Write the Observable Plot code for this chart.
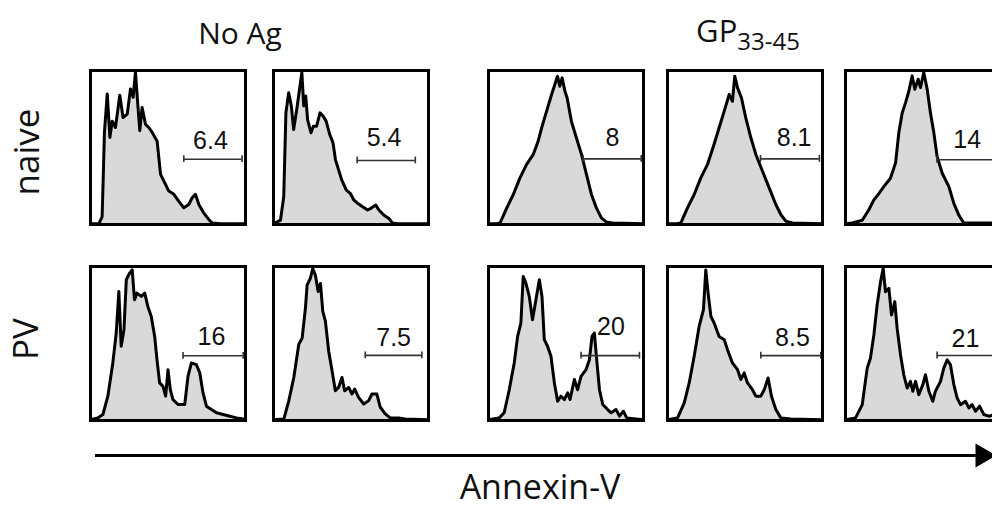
<!DOCTYPE html>
<html>
<head>
<meta charset="utf-8">
<script src="https://cdn.jsdelivr.net/npm/d3@7"></script>
<script src="https://cdn.jsdelivr.net/npm/@observablehq/plot@0.6"></script>
<style>
  html, body { margin: 0; padding: 0; background: #fff; overflow: hidden; }
  #root { position: relative; width: 992px; height: 511px; overflow: hidden; font-family: "Open Sans", sans-serif; }
  .abs { position: absolute; }
  .title { font-size: 30px; color: #111; white-space: nowrap; line-height: 1; }
  .title sub { font-size: 24px; vertical-align: -0.35em; line-height: 0; }
  .big { font-size: 35px; }
</style>
</head>
<body>
<div id="root"></div>
<script>
// ---- data: histogram outlines, [channel %, relative count %] ----
const naiveNoAg1 = [[0,0.5],[5.4,0.5],[7.5,5],[8.2,30],[9,60],[10.8,84.8],[12.5,56.5],[14,67],[16.1,63],[18.9,84],[21,69.5],[23.7,71.7],[25.8,88],[27.5,82.6],[29,98.9],[30.5,78],[31.8,60.9],[33.3,76],[35.5,65],[37.6,63],[39.8,59.8],[43,54],[45.2,32.6],[48.4,26],[50.5,21.7],[53.8,19.6],[57,15],[60.2,10.9],[63.4,13],[65.6,17.4],[67.7,19.6],[69.9,13],[73,7.6],[76.3,3.3],[78.5,1],[84,0.5],[100,0.5]];
const naiveNoAg2 = [[0,0.5],[4.5,2.8],[6.6,18],[8,72.5],[9.8,85.6],[11.5,77],[13,61.7],[15,74.7],[16.8,87.8],[18.3,98.7],[19.5,77],[20.8,83.4],[22,68],[24.2,59.5],[25.7,63.8],[27.8,63.8],[30,72.5],[32,70.4],[34,67],[36.3,58.4],[38.4,53],[40,42],[42,35.5],[44,29],[47,22.4],[49.7,20],[51.8,15.9],[54.4,13.7],[57.5,11.5],[60.7,9.4],[62.8,10.5],[66,12.6],[68,9.4],[71.3,6],[74.5,3.9],[76.6,1],[80,0.5],[100,0.5]];
const naiveGP1 = [[0,0.5],[5,0.5],[7.5,1],[11.8,10.8],[16,19.5],[20.3,30.3],[24.6,39],[28.9,45.5],[32,54],[34.3,62.8],[37.5,73.6],[40.7,84.4],[42.8,90.9],[44.5,96.3],[46,89.8],[47.5,95.2],[49.3,86.6],[50.7,82.3],[53.5,67],[56.7,56.3],[60,45.5],[63.2,32.5],[66.4,19.5],[69.6,10.8],[72.8,4.3],[76,1.7],[80,1],[100,0.5]];
const naiveGP2 = [[0,0.5],[6,0.5],[8.6,1],[12.9,10.8],[17.2,19.5],[21.5,30.3],[25.8,39],[30,52],[33.3,62.8],[36.6,73.6],[39.8,84.4],[41.9,80],[43.4,96.3],[45.2,88.7],[47.7,82.3],[50.5,69.3],[53.8,56.3],[57,45.5],[61.3,34.6],[65.6,23.8],[69.9,13],[73.1,6.5],[76.3,2.2],[80.6,1],[100,0.5]];
const naiveGP3 = [[0,0.5],[4.3,1],[10.8,2.8],[15,9.4],[18.3,16],[21.5,20],[24.7,24.6],[29,30],[32.3,40],[34.4,59.5],[36.6,72.5],[38.7,79],[40.9,86.7],[43,96.5],[44.7,87.8],[46.9,94.3],[48.4,88.9],[50.5,98.7],[52.7,87.8],[54.8,72.5],[57,59.5],[59.1,44.2],[62.4,33.3],[66.7,24.6],[69.9,13.7],[73.1,6.1],[76.3,1],[100,1]];
const pvNoAg1 = [[0,0.5],[4.7,1.7],[8,3.9],[11.2,15.8],[14.4,37.4],[16.6,56.8],[18.3,83.8],[19.8,48.2],[21.6,59],[23.1,91.4],[25.2,95.7],[26.9,97.8],[28.4,78.4],[29.9,82.7],[32.8,80.6],[35,82.7],[37,74],[39.2,67.6],[41.4,54.6],[42.9,39.5],[44.6,24.4],[46.8,22.2],[48.5,15.8],[50,33],[51.5,20],[53.2,13.6],[56.5,10.4],[60.8,10.4],[62.9,28.7],[65.1,37.4],[68.3,36.3],[70.5,30.9],[72.6,17.9],[74.8,9.3],[78,7.1],[81.3,5],[85.6,3.9],[89.9,2.8],[94.2,1.7],[98.5,1],[100,0.5]];
const pvNoAg2 = [[0,0.5],[6.7,1],[9.9,12.9],[13.1,27.9],[16.3,49.4],[18.5,53.6],[20.6,73],[21.7,88],[23.8,92.3],[25.3,98.7],[27,94.4],[28.8,83.7],[30.3,89],[31.8,70.8],[33.5,64.4],[35.6,45],[37.8,32.2],[39.9,19.3],[42,21.5],[44.2,27.9],[45.9,19.3],[48.5,21.5],[50.6,17.2],[52.4,20.4],[54.9,15],[58.2,10.7],[61.4,12.9],[63.5,17.2],[66.7,17.2],[68.9,8.6],[72.1,4.3],[75.3,1.7],[80.7,1.7],[85,1],[100,0.5]];
const pvGP1 = [[0,0.5],[6.9,1.7],[10.1,5],[13.4,20],[16.6,37.4],[18.8,54.6],[20.9,63.3],[22.4,93.5],[24.1,89.2],[26.3,80.6],[28.4,65.4],[30.6,78.4],[32.8,91.4],[34.5,80.6],[36,52.5],[38.1,48.2],[40.3,41.7],[42.5,24.4],[44.6,12.5],[46.8,15.8],[48.9,13.6],[51.1,17.9],[52.6,13.6],[55.4,26.6],[57.5,20],[59.7,28.7],[62.9,33],[65.1,39.5],[66.8,54.6],[68.3,56.8],[69.8,39.5],[71.6,20],[73.7,10.4],[76.9,7.1],[79.1,5],[82.3,7.1],[84.5,2.8],[87,6],[89.2,1.7],[95,1],[100,0.5]];
const pvGP2 = [[0,0.5],[6.5,1.7],[10.8,11.4],[14,24.4],[17.2,41.7],[20.4,61.1],[23.2,72],[24.7,97.8],[26.2,82.7],[28,67.6],[30.1,63.3],[33.3,54.6],[36.6,52.5],[38.7,46],[41.9,37.4],[45.2,33],[47.3,26.6],[49.5,30.9],[51.6,24.4],[54.8,20],[57,15.8],[60.2,15.8],[62.4,20],[64.9,27.6],[67.1,15.8],[69.9,7.1],[73.1,1.7],[79.6,1],[100,0.5]];
const pvGP3 = [[0,0.5],[6.5,1.7],[10.8,10.3],[14,34],[16.1,40.5],[18.3,55.6],[20.4,75],[22.6,90],[24.3,98.7],[25.8,83.6],[28,85.8],[29.7,68.5],[31.8,77.2],[33.3,60],[35.5,42.7],[37.6,29.7],[39.8,21.1],[41.9,25.4],[43.4,19],[45.2,25.4],[47.3,16.8],[49.9,23.3],[51.6,29.7],[53.8,19],[56.3,12.5],[58,19],[61.3,25.4],[63.4,34],[65.6,39.4],[67.7,36.2],[69.9,23.3],[72,14.7],[74.2,10.3],[77.4,12.5],[79.6,8.2],[81.7,10.3],[83.9,6],[86.5,9.3],[89.2,3.9],[92.5,2.8],[94.6,3.4],[96.8,1.7],[100,1]];

// gate (Annexin-V+ %) per panel, row-major
const gateLabels = ["6.4","5.4","8","8.1","14","16","7.5","20","8.5","21"];
const gateStart  = [60.2, 54, 61, 60, 59, 59.7, 59.2, 59.7, 60.2, 59.1];
const gateEnd    = [97.8, 91.5, 98.5, 98, 98, 98.5, 95.7, 97.4, 98.9, 98];
const gateLevel  = [42.4, 41.6, 42.6, 42.6, 42, 42, 42.3, 42.1, 42.1, 42.2];
const labelX     = [77.4, 71.3, 80, 81.7, 78.5, 78, 77.5, 79, 80.6, 77.4];
const labelY     = [48.9, 50.8, 51, 51, 49.7, 49, 48.3, 55.7, 48.2, 48];

const rowLabels = ["naive", "PV"];
const groupLabels = ["No Ag", "GP"];
const xAxisLabel = "Annexin-V";

const curves = [naiveNoAg1, naiveNoAg2, naiveGP1, naiveGP2, naiveGP3, pvNoAg1, pvNoAg2, pvGP1, pvGP2, pvGP3];

// ---- layout ----
const root = document.getElementById("root");
const colLeft = [90, 273, 488, 667, 845];
const rowTop = [70, 266];
const PW = 155, PH = 154, M = 3;

function panel(i) {
  const data = curves[i].map(([x, y]) => ({x, y}));
  const g = {x1: gateStart[i], x2: gateEnd[i], y: gateLevel[i], lx: labelX[i], ly: labelY[i], label: gateLabels[i]};
  const ends = [{x: g.x1, y1: g.y - 2.2, y2: g.y + 2.2}, {x: g.x2, y1: g.y - 2.2, y2: g.y + 2.2}];
  return Plot.plot({
    width: PW + 2 * M, height: PH + 2 * M, margin: M,
    x: {domain: [0, 100], axis: null},
    y: {domain: [0, 100], axis: null},
    marks: [
      Plot.areaY(data, {x: "x", y: "y", fill: "#d9d9d9"}),
      Plot.lineY(data, {x: "x", y: "y", stroke: "#000", strokeWidth: 3, strokeLinejoin: "round"}),
      Plot.ruleY([g], {y: "y", x1: "x1", x2: "x2", stroke: "#333", strokeWidth: 1.6}),
      Plot.ruleX(ends, {x: "x", y1: "y1", y2: "y2", stroke: "#333", strokeWidth: 1.6}),
      Plot.text([g], {x: "lx", y: "ly", text: "label", lineAnchor: "bottom", fontSize: 25, fill: "#111", fontFamily: "Liberation Sans, Arial, sans-serif"}),
      Plot.frame({stroke: "#000", strokeWidth: 3})
    ]
  });
}

for (let i = 0; i < 10; i++) {
  const r = Math.floor(i / 5), c = i % 5;
  const svg = panel(i);
  svg.classList.add("abs");
  svg.style.left = (colLeft[c] - M) + "px";
  svg.style.top = (rowTop[r] - M) + "px";
  root.appendChild(svg);
}

// titles
function addText(html, cls, css) {
  const d = document.createElement("div");
  d.className = "abs " + cls;
  d.innerHTML = html;
  Object.assign(d.style, css);
  root.appendChild(d);
  return d;
}
addText(groupLabels[0], "title", {left: "240px", top: "18px", transform: "translateX(-50%)"});
addText(groupLabels[1] + "<sub>33-45</sub>", "title", {left: "748px", top: "15px", transform: "translateX(-50%)", fontSize: "31px"});
addText(rowLabels[0], "title big", {left: "25px", top: "152px", transform: "translate(-50%,-50%) rotate(-90deg)"});
addText(rowLabels[1], "title big", {left: "24px", top: "339px", transform: "translate(-50%,-50%) rotate(-90deg)"});
addText(xAxisLabel, "title big", {left: "540px", top: "469px", transform: "translateX(-50%)", fontSize: "34px"});

// bottom arrow
const arrowData = [{x1: 95, x2: 982, y: 0}];
const arrow = Plot.plot({
  width: 992, height: 30, margin: 0,
  x: {domain: [0, 992], axis: null},
  y: {domain: [-1, 1], axis: null},
  marks: [
    Plot.ruleY(arrowData, {y: "y", x1: "x1", x2: "x2", stroke: "#000", strokeWidth: 3.2}),
    Plot.dot(arrowData, {x: "x2", y: "y", symbol: "triangle", rotate: 90, r: 9, fill: "#000", stroke: null})
  ]
});
arrow.classList.add("abs");
arrow.style.left = "0px";
arrow.style.top = "440px";
root.appendChild(arrow);
</script>
</body>
</html>
